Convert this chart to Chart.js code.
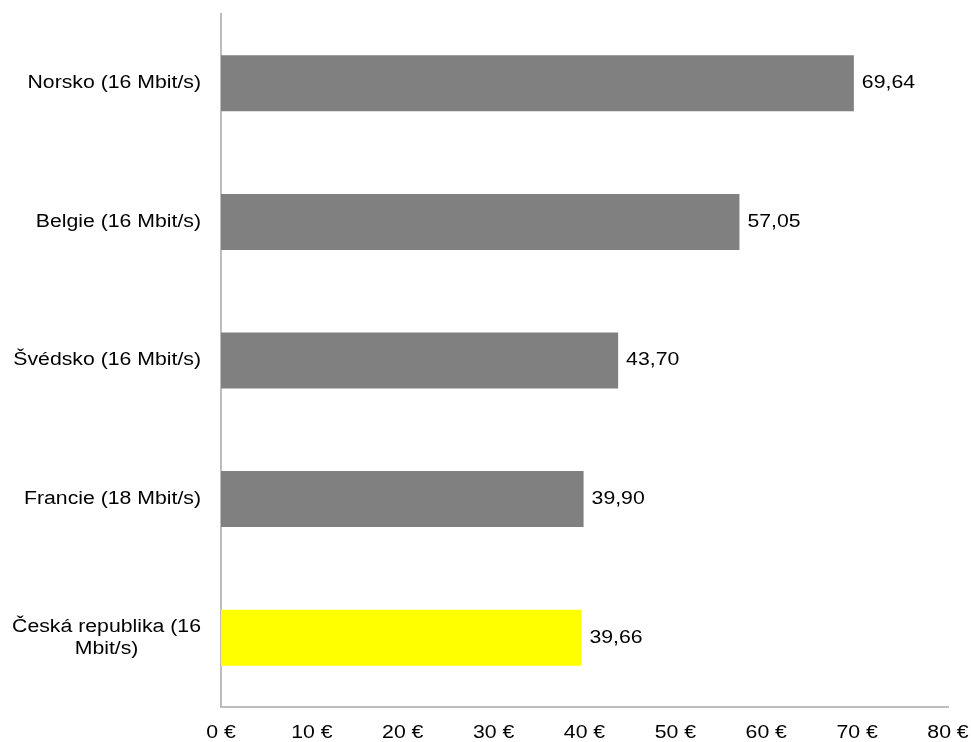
<!DOCTYPE html>
<html>
<head>
<meta charset="utf-8">
<script src="https://cdn.jsdelivr.net/npm/chart.js@4/dist/chart.umd.min.js"></script>
<style>
html,body{margin:0;padding:0;background:#fff;}
canvas{display:block;}
</style>
</head>
<body>
<canvas id="c" width="971" height="742"></canvas>
<script>
const categories = ['Norsko (16 Mbit/s)', 'Belgie (16 Mbit/s)', 'Švédsko (16 Mbit/s)', 'Francie (18 Mbit/s)', ['Česká republika (16', 'Mbit/s)']];
const values = [69.64, 57.05, 43.70, 39.90, 39.66];
const barColors = ['#808080', '#808080', '#808080', '#808080', '#FFFF00'];
const xTickValues = [0, 10, 20, 30, 40, 50, 60, 70, 80];
const currency = '€';

const FONT = '18px "Liberation Sans", Arial, sans-serif';
const SX = 1.18;

function drawText(ctx, txt, x, y, align) {
  const w = ctx.measureText(txt).width * SX;
  const left = align === 'left' ? x : (align === 'right' ? x - w : x - w / 2);
  ctx.save();
  ctx.translate(left, y);
  ctx.scale(SX, 1);
  ctx.textAlign = 'left';
  ctx.fillText(txt, 0, 0);
  ctx.restore();
}

const textPlugin = {
  id: 'textPlugin',
  afterDraw(chart) {
    const ctx = chart.ctx;
    const xs = chart.scales.x, ys = chart.scales.y;
    const area = chart.chartArea;
    ctx.save();
    ctx.font = FONT;
    ctx.fillStyle = '#000';
    ctx.textBaseline = 'middle';
    // category labels
    categories.forEach((lab, i) => {
      const lines = Array.isArray(lab) ? lab : [lab];
      const y = ys.getPixelForValue(i);
      const maxW = Math.max(...lines.map(l => ctx.measureText(l).width * SX));
      const cx = area.left - 20 - maxW / 2;
      const lh = 22;
      lines.forEach((l, j) => drawText(ctx, l, cx, y + (j - (lines.length - 1) / 2) * lh, 'center'));
    });
    // value labels
    const meta = chart.getDatasetMeta(0);
    meta.data.forEach((bar, i) => {
      drawText(ctx, values[i].toFixed(2).replace('.', ','), bar.x + 8, bar.y, 'left');
    });
    // x tick labels
    xTickValues.forEach(v => {
      drawText(ctx, v + ' ' + currency, xs.getPixelForValue(v), area.bottom + 26, 'center');
    });
    ctx.restore();
  }
};

new Chart(document.getElementById('c'), {
  type: 'bar',
  data: {
    labels: categories,
    datasets: [{
      data: values,
      backgroundColor: barColors,
      borderWidth: 0,
      barPercentage: 0.404,
      categoryPercentage: 1
    }]
  },
  options: {
    indexAxis: 'y',
    responsive: false,
    animation: false,
    layout: { padding: { top: 14, right: 23, left: 0, bottom: 0 } },
    plugins: { legend: { display: false }, tooltip: { enabled: false } },
    scales: {
      x: {
        min: 0, max: 80,
        ticks: { display: false, stepSize: 10 },
        grid: { display: false },
        border: { display: true, color: '#bdbdbd', width: 2 },
        afterFit(scale) { scale.height = 35; }
      },
      y: {
        ticks: { display: false },
        grid: { display: false },
        border: { display: true, color: '#bdbdbd', width: 2 },
        afterFit(scale) { scale.width = 221; }
      }
    }
  },
  plugins: [textPlugin]
});
</script>
</body>
</html>
